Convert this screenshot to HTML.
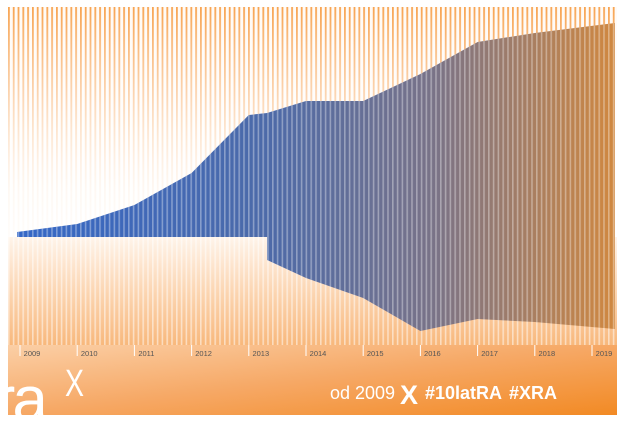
<!DOCTYPE html>
<html><head><meta charset="utf-8">
<style>
html,body{margin:0;padding:0;background:#fff;overflow:hidden;width:625px;height:422px;}
svg{display:block;}
text{font-family:"Liberation Sans",sans-serif;}
</style></head>
<body>
<svg id="chart" width="625" height="422" xmlns="http://www.w3.org/2000/svg">
<defs>
 <linearGradient id="topFade" x1="0" y1="0" x2="0" y2="1">
  <stop offset="0" stop-color="#f7a04a" stop-opacity="0.95"/>
  <stop offset="0.4" stop-color="#f8ae6a" stop-opacity="0.5"/>
  <stop offset="0.8" stop-color="#fbd2ad" stop-opacity="0.15"/>
  <stop offset="1" stop-color="#fce3cb" stop-opacity="0.1"/>
 </linearGradient>
 <linearGradient id="botFade" x1="0" y1="0" x2="0" y2="1">
  <stop offset="0" stop-color="#fff4ea"/>
  <stop offset="1" stop-color="#f8b87c"/>
 </linearGradient>
 <linearGradient id="areaFill" x1="0" y1="0" x2="1" y2="0">
  <stop offset="0" stop-color="#3467c6"/>
  <stop offset="0.42" stop-color="#4d6aa8"/>
  <stop offset="0.7" stop-color="#7a7387"/>
  <stop offset="1" stop-color="#d08840"/>
 </linearGradient>
 <linearGradient id="footFill" x1="0" y1="0" x2="1" y2="1">
  <stop offset="0" stop-color="#fbcfa6"/>
  <stop offset="0.5" stop-color="#f6a865"/>
  <stop offset="1" stop-color="#f28a24"/>
 </linearGradient>
 <pattern id="gaps" width="4.8" height="10" patternUnits="userSpaceOnUse" x="8">
  <rect x="0" y="0" width="1.6" height="10" fill="#fff"/>
 </pattern>
 <pattern id="bars" width="4.8" height="10" patternUnits="userSpaceOnUse" x="8">
  <rect x="1.8" y="0" width="3.0" height="10" fill="#fff"/>
 </pattern>
 <clipPath id="plotClip"><rect x="8" y="7" width="609" height="338"/></clipPath>
 <clipPath id="footClip"><rect x="8" y="345" width="609" height="70"/></clipPath>
</defs>
<g clip-path="url(#plotClip)">
 <rect x="8" y="7" width="609" height="230" fill="url(#topFade)"/>
 <rect x="8" y="237" width="609" height="108" fill="url(#botFade)"/>
 <rect x="8" y="7" width="609" height="230" fill="url(#bars)" opacity="0.95"/>
 <rect x="8" y="237" width="609" height="108" fill="url(#gaps)" opacity="0.5"/>
 <g id="areaLayer"></g>
</g>
<rect x="8" y="345" width="609" height="70" fill="url(#footFill)"/>
<g id="axisLayer"></g>
<g clip-path="url(#footClip)">
<text x="-6" y="421" font-size="64" fill="#fff" letter-spacing="-3">ra</text>
</g>
<text x="0" y="0" font-size="38" fill="#fff" transform="translate(65,396) scale(0.75,1)">X</text>
<text x="330" y="399" font-size="18" fill="#fff">od 2009</text>
<text x="400" y="404" font-size="27" font-weight="bold" fill="#fff">X</text>
<text x="425" y="399" font-size="18" font-weight="bold" fill="#fff">#10latRA</text>
<text x="509" y="399" font-size="18" font-weight="bold" fill="#fff">#XRA</text>
</svg>
<script>
const years = [2008.95, 2010, 2011, 2012, 2013, 2013.32, 2014, 2015, 2016, 2017, 2018, 2019.4];
const upperValues = [5, 13, 32, 64, 122, 124, 136, 136, 163, 195, 204, 214];
const lowerValues = [0, 0, 0, 0, 0, -23, -41, -61, -94, -82, -85, -92];
const tickYears = [2009, 2010, 2011, 2012, 2013, 2014, 2015, 2016, 2017, 2018, 2019];
const tickLabels = ["2009","2010","2011","2012","2013","2014","2015","2016","2017","2018","2019"];

const NS = "http://www.w3.org/2000/svg";
function xScale(yr){ return 20 + (yr - 2009) * 57.2; }
function yScale(v){ return 237 - v; }

const areaLayer = document.getElementById('areaLayer');
let d = "";
for (let i = 0; i < years.length; i++) {
  d += (i ? "L" : "M") + xScale(years[i]).toFixed(1) + "," + yScale(upperValues[i]).toFixed(1);
}
for (let i = years.length - 1; i >= 0; i--) {
  const x = xScale(years[i]);
  d += "L" + x.toFixed(1) + "," + yScale(lowerValues[i]).toFixed(1);
  if (lowerValues[i] < 0 && (i === 0 || lowerValues[i-1] === 0)) {
    d += "L" + x.toFixed(1) + "," + yScale(0).toFixed(1);
  }
}
d += "Z";
const area = document.createElementNS(NS, 'path');
area.setAttribute('d', d);
area.setAttribute('fill', 'url(#areaFill)');


areaLayer.appendChild(area);
const over = document.createElementNS(NS, 'path');
over.setAttribute('d', d);
over.setAttribute('fill', 'url(#gaps)');
over.setAttribute('opacity', '0.35');


areaLayer.appendChild(over);

const axis = document.getElementById('axisLayer');
for (let i = 0; i < tickYears.length; i++) {
  const x = xScale(tickYears[i]);
  const t = document.createElementNS(NS, 'line');
  t.setAttribute('x1', x); t.setAttribute('x2', x);
  t.setAttribute('y1', 345); t.setAttribute('y2', 356);
  t.setAttribute('stroke', '#fff'); t.setAttribute('stroke-width', '1');
  
  
  axis.appendChild(t);
  const lb = document.createElementNS(NS, 'text');
  lb.setAttribute('x', x + 12); lb.setAttribute('y', 356);
  lb.setAttribute('text-anchor', 'middle');
  lb.setAttribute('font-size', '7.5');
  lb.setAttribute('fill', '#555');
  lb.textContent = tickLabels[i];
  
  
  axis.appendChild(lb);
}
</script>
</body></html>
